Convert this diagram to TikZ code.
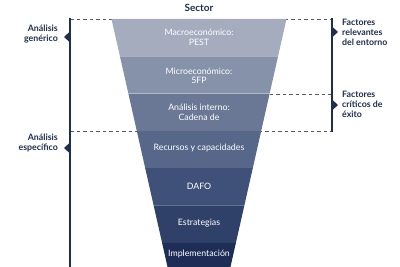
\documentclass[tikz,border=0pt]{standalone}
\usepackage{fontspec}
\setmainfont{Lato}
\definecolor{bandA}{HTML}{A4ACBE}
\definecolor{bandB}{HTML}{8592AA}
\definecolor{bandC}{HTML}{6B7895}
\definecolor{bandD}{HTML}{56678A}
\definecolor{bandE}{HTML}{3F5178}
\definecolor{bandF}{HTML}{2F4168}
\definecolor{bandG}{HTML}{1D2D55}
\definecolor{navy}{HTML}{1F2D4E}
\begin{document}
\begin{tikzpicture}[
  x=1pt, y=-1pt,
  franja/.style={text=white, align=center, font=\fontsize{8.8}{9.5}\selectfont},
  etiq/.style={text=navy, font=\bfseries\fontsize{8.8}{10}\selectfont, inner sep=0pt},
  guia/.style={draw=gray!70!black, line width=0.7pt, dash pattern=on 3.5pt off 3pt},
  llave/.style={draw=navy, line width=1.6pt}
]
  \useasboundingbox (0,0) rectangle (400,267);
  \clip (0,0) rectangle (400,267);

  % Líneas discontinuas
  \coordinate (g1) at (70,19);  \coordinate (g2) at (332,19);
  \coordinate (e1) at (70,131); \coordinate (e2) at (332,131);
  \coordinate (c1) at (250,94); \coordinate (c2) at (332,94);
  \draw[guia] (g1) -- (g2);
  \draw[guia] (e1) -- (e2);
  \draw[guia] (c1) -- (c2);

  % Franjas del embudo
  \foreach \i/\col in {0/bandA,1/bandB,2/bandC,3/bandD,4/bandE,5/bandF,6/bandG} {
    \pgfmathsetmacro\ya{19+37.3*\i}
    \pgfmathsetmacro\yb{19+37.3*(\i+1)}
    \pgfmathsetmacro\wa{87.5-0.226*(\ya-19)}
    \pgfmathsetmacro\wb{87.5-0.226*(\yb-19)}
    \fill[\col] (199-\wa,\ya) -- (199+\wa,\ya) -- (199+\wb,\yb) -- (199-\wb,\yb) -- cycle;
    \draw[white!70!\col, line width=0.4pt] (199-\wb,\yb) -- (199+\wb,\yb);
  }

  % Textos del embudo
  \node[franja] (b1) at (199,37.5) {Macroeconómico:\\PEST};
  \node[franja] (b2) at (199,76) {Microeconómico:\\5FP};
  \node[franja] (b3) at (199,112.5) {Análisis interno:\\Cadena de};
  \node[franja] (b4) at (199,148.5) {Recursos y capacidades};
  \node[franja] (b5) at (199,186.5) {DAFO};
  \node[franja] (b6) at (199,223) {Estrategias};
  \node[franja] (b7) at (199,254.5) {Implementación};

  % Título
  \node[etiq, font=\bfseries\fontsize{10}{12}\selectfont] (sector) at (199,8) {Sector};

  % Llave izquierda
  \coordinate (li1) at (70,18);
  \coordinate (li2) at (70,270);
  \draw[llave] (li1) -- (li2);
  \fill[navy] (70,31.5) -- (64,37) -- (70,42.5) -- cycle;
  \fill[navy] (70,142.5) -- (64,148) -- (70,153.5) -- cycle;
  \node[etiq, anchor=east, align=right] (gen) at (58,34) {Análisis\\genérico};
  \node[etiq, anchor=east, align=right] (esp) at (58,143) {Análisis\\específico};

  % Llave derecha
  \coordinate (ld1) at (332,18);
  \coordinate (ld2) at (332,132);
  \draw[llave] (ld1) -- (ld2);
  \fill[navy] (332,26.5) -- (338,32) -- (332,37.5) -- cycle;
  \fill[navy] (332,99.5) -- (338,105) -- (332,110.5) -- cycle;
  \node[etiq, anchor=west, align=left] (rel) at (342,32.5) {Factores\\relevantes\\del entorno};
  \node[etiq, anchor=west, align=left] (cri) at (342,104.5) {Factores\\críticos de\\éxito};
\end{tikzpicture}
\end{document}
